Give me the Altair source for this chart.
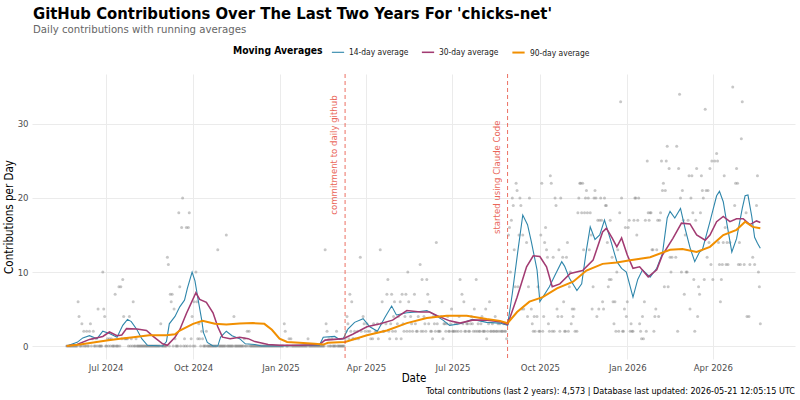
import altair as alt
import pandas as pd

# ---------------- text ----------------
TITLE = "GitHub Contributions Over The Last Two Years For 'chicks-net'"
SUBTITLE = "Daily contributions with running averages"
FOOTER = ("Total contributions (last 2 years): 4,573 | "
          "Database last updated: 2026-05-21 12:05:15 UTC")
LEGEND_TITLE = "Moving Averages"
X_TITLE = "Date"
Y_TITLE = "Contributions per Day"

START = "2024-05-21"          # day 0 of the two-year window
QUIET_LAST_DAY = 292          # up to this day every unplotted day had 0 contributions

series_names = ["14-day average", "30-day average", "90-day average"]
series_colors = ["#2E86AB", "#A23B72", "#F18F01"]

x_tick_dates = [(2024, 7), (2024, 10), (2025, 1), (2025, 4),
                (2025, 7), (2025, 10), (2026, 1), (2026, 4)]
y_ticks = [0, 10, 20, 30]

event_dates = ["2025-03-10", "2025-08-28"]
event_labels = ["commitment to daily github", "started using Claude Code"]
event_label_y = [25.8, 22.8]

# ---------------- daily contributions (day offset, count) ----------------
points_year1 = [
    (12, 6), (13, 4), (16, 3), (18, 2), (21, 2), (24, 2), (25, 3), (27, 1), (28, 2),
    (31, 1), (33, 5), (38, 10), (39, 5), (40, 4), (43, 1), (45, 1), (47, 1), (51, 7),
    (55, 8), (57, 8), (58, 1), (59, 9), (60, 4), (61, 1), (62, 1), (63, 1), (64, 1),
    (66, 4), (68, 1), (70, 6), (73, 1), (99, 3), (106, 12), (107, 11), (109, 7),
    (110, 6), (111, 7), (113, 5), (114, 1), (118, 18), (119, 8), (121, 16), (122, 20),
    (124, 1), (126, 16), (128, 16), (129, 18), (131, 1), (132, 4), (134, 6), (136, 10),
    (137, 6), (138, 1), (139, 3), (140, 1), (142, 2), (143, 1), (147, 2), (159, 13),
    (168, 15), (176, 4), (187, 1), (190, 2), (192, 2), (229, 3), (230, 2), (234, 1),
    (236, 1), (254, 1), (272, 13), (273, 3), (274, 2), (276, 1), (279, 1), (284, 2),
]

points_year2a = [
    (293, 1), (294, 2), (295, 4), (296, 3), (297, 1), (298, 7), (299, 2), (300, 6),
    (301, 1), (302, 1), (303, 2), (304, 1), (306, 2), (307, 1), (309, 12), (310, 2),
    (312, 4), (313, 3), (314, 2), (316, 3), (317, 2), (319, 2), (320, 1), (322, 1),
    (323, 3), (325, 2), (326, 2), (327, 3), (328, 1), (330, 13), (331, 3), (332, 6),
    (333, 2), (334, 2), (336, 3), (337, 7), (338, 9), (339, 2), (340, 1), (341, 3),
    (342, 7), (343, 2), (344, 4), (345, 6), (346, 2), (347, 1), (348, 3), (349, 4),
    (351, 6), (352, 1), (353, 7), (354, 3), (355, 2), (356, 4), (357, 7), (358, 2),
    (359, 10), (360, 6), (361, 2), (362, 4), (363, 3), (364, 2), (366, 7), (367, 3),
    (368, 2), (369, 2), (370, 4), (372, 11), (373, 2), (374, 9), (375, 2), (376, 4),
    (377, 3), (378, 2), (379, 9), (380, 7), (381, 3), (382, 6), (383, 2), (384, 2),
    (385, 1), (386, 4), (387, 3), (388, 2), (389, 14), (390, 3), (391, 2), (392, 2),
    (393, 2), (394, 4), (395, 6), (396, 1), (397, 3), (398, 3), (399, 2), (400, 3),
    (401, 4), (402, 2), (403, 2), (404, 3), (405, 5), (406, 2), (407, 2), (408, 2),
    (409, 3), (410, 2), (411, 3), (412, 2), (413, 4), (414, 9), (415, 2), (416, 7),
    (417, 3), (418, 6), (419, 2), (420, 2), (421, 3), (422, 3), (423, 2), (424, 2),
    (425, 3), (426, 4), (427, 3), (428, 2), (429, 5), (430, 2), (431, 9), (432, 2),
    (433, 3), (434, 2), (435, 2), (436, 3), (437, 4), (438, 2), (439, 2), (440, 2),
    (441, 5), (442, 1), (443, 2), (444, 3), (445, 6), (446, 2), (447, 2), (448, 3),
    (449, 2), (450, 2), (451, 4), (452, 2), (453, 2), (454, 3), (455, 2), (456, 3),
    (457, 2), (458, 2), (459, 2), (460, 3), (461, 2), (462, 2), (463, 1),
]

points_year2b = [
    (464, 3), (465, 15), (466, 16), (467, 10), (468, 17), (469, 20), (470, 19), (471, 13),
    (472, 8), (473, 22), (474, 21), (475, 8), (476, 15), (477, 20), (478, 19), (479, 5),
    (480, 15), (481, 5), (484, 14), (485, 4), (486, 8), (487, 20), (489, 5), (490, 3),
    (491, 2), (492, 4), (493, 2), (495, 4), (496, 8), (497, 2), (498, 2), (499, 15),
    (500, 22), (501, 2), (502, 4), (503, 14), (504, 16), (505, 13), (506, 12), (507, 3),
    (508, 2), (509, 23), (510, 22), (511, 2), (512, 12), (513, 2), (514, 20), (515, 19),
    (516, 5), (517, 4), (518, 13), (519, 2), (520, 20), (521, 4), (522, 12), (523, 6),
    (524, 2), (525, 2), (526, 12), (527, 14), (528, 2), (529, 8), (530, 10), (531, 3),
    (532, 5), (533, 4), (534, 5), (535, 2), (537, 2), (538, 18), (539, 20), (540, 22),
    (541, 22), (542, 18), (543, 22), (544, 13), (545, 18), (546, 20), (547, 21), (548, 18),
    (549, 20), (550, 13), (551, 18), (552, 15), (553, 5), (554, 8), (555, 20), (556, 21),
    (557, 20), (558, 4), (559, 17), (560, 5), (561, 17), (562, 20), (563, 17), (564, 6),
    (565, 5), (566, 20), (567, 19), (568, 19), (569, 14), (570, 8), (571, 9), (572, 17),
    (573, 9), (574, 12), (575, 6), (576, 3), (577, 6), (578, 2), (579, 10), (580, 13),
    (581, 2), (582, 18), (583, 33), (584, 20), (585, 2), (586, 2), (587, 5), (588, 16),
    (589, 4), (590, 6), (591, 16), (592, 17), (593, 2), (594, 3), (595, 2), (596, 2),
    (597, 17), (598, 20), (599, 20), (600, 15), (601, 17), (602, 20), (603, 3), (604, 2),
    (605, 1), (606, 4), (607, 1), (608, 6), (609, 17), (610, 2), (611, 25), (612, 18),
    (613, 17), (614, 18), (615, 18), (616, 13), (617, 13), (618, 2), (619, 4), (620, 5),
    (621, 13), (622, 17), (623, 4), (624, 17), (625, 18), (626, 25), (627, 21), (628, 22),
    (629, 8), (630, 21), (631, 25), (632, 27), (633, 8), (634, 24), (635, 12), (636, 10),
    (637, 12), (641, 12), (642, 27), (643, 2), (644, 24), (645, 34), (646, 20), (647, 10),
    (648, 21), (649, 17), (650, 7), (651, 15), (652, 10), (653, 10), (654, 17), (655, 23),
    (656, 5), (657, 20), (658, 23), (659, 18), (660, 9), (661, 2), (662, 17), (663, 24),
    (664, 4), (665, 8), (666, 7), (667, 18), (668, 23), (669, 21), (670, 20), (671, 9),
    (672, 32), (673, 21), (674, 12), (675, 21), (676, 14), (677, 24), (678, 11), (679, 25),
    (680, 9), (682, 25), (684, 26), (685, 25), (686, 14), (687, 11), (688, 6), (689, 9),
    (690, 11), (691, 14), (692, 23), (693, 16), (694, 11), (695, 14), (696, 11), (698, 14),
    (701, 35), (703, 19), (704, 22), (705, 24), (706, 22), (707, 11), (708, 14), (709, 11),
    (710, 28), (711, 33), (713, 11), (715, 18), (716, 4), (718, 4), (719, 11), (722, 12),
    (724, 11), (726, 19), (727, 23), (728, 10), (729, 8), (730, 3),
]

# ---------------- running averages (day offset, value) ----------------
ma14 = [
    (0, 0), (11, 0.5), (17, 1.1), (24, 1.4), (32, 1.0), (38, 2.0), (45, 1.7), (53, 1.2),
    (59, 2.8), (64, 3.6), (68, 3.3), (74, 2.2), (79, 1.0), (85, 0.1), (101, 0), (105, 0.6),
    (108, 3.0), (114, 4.0), (119, 5.3), (124, 6.2), (127, 7.8), (132, 10.0), (135, 8.8),
    (138, 6.5), (142, 3.6), (144, 1.8), (148, 0.5), (154, 0), (159, 0), (162, 1.2),
    (168, 2.0), (174, 1.4), (182, 1.0), (188, 0.3), (198, 0.2), (205, 0), (224, 0),
    (245, 0.1), (266, 0.1), (270, 1.2), (282, 1.3), (287, 0.9), (291, 1.0), (296, 2.3),
    (303, 3.2), (312, 3.7), (319, 2.6), (327, 2.0), (335, 3.9), (342, 5.4), (347, 4.2),
    (358, 4.5), (368, 4.6), (379, 4.8), (385, 4.4), (396, 3.5), (403, 2.8), (414, 3.0),
    (427, 3.6), (442, 3.2), (456, 3.1), (464, 2.8), (469, 7.1), (475, 13.0), (480, 17.7),
    (485, 16.4), (489, 14.1), (495, 10.3), (498, 6.0), (503, 7.0), (508, 8.0), (514, 9.6),
    (521, 11.4), (524, 10.8), (529, 9.2), (537, 7.5), (542, 8.4), (547, 13.0), (551, 16.1),
    (556, 14.4), (561, 15.0), (566, 17.0), (572, 14.5), (579, 11.4), (584, 10.5),
    (589, 10.0), (596, 6.6), (601, 9.0), (606, 10.3), (614, 9.3), (621, 10.5), (627, 12.5),
    (632, 17.3), (635, 18.2), (640, 17.3), (646, 18.6), (651, 15.8), (656, 13.3),
    (661, 11.4), (666, 12.7), (669, 13.0), (677, 16.8), (684, 20.3), (687, 20.9),
    (691, 19.5), (695, 16.4), (700, 12.7), (705, 14.5), (711, 18.6), (714, 20.3),
    (717, 20.4), (721, 17.5), (724, 14.7), (727, 13.9), (730, 13.2),
]

ma30 = [
    (0, 0), (11, 0.2), (24, 0.9), (38, 1.3), (45, 1.9), (53, 1.4), (58, 1.5), (63, 2.35),
    (74, 2.3), (84, 2.1), (91, 1.3), (101, 0.3), (106, 0.1), (114, 1.2), (119, 2.2),
    (126, 4.4), (136, 7.2), (140, 6.3), (147, 5.9), (154, 4.5), (159, 2.6), (164, 1.2),
    (172, 1.0), (182, 1.2), (191, 1.0), (198, 0.6), (212, 0.2), (224, 0.1), (245, 0.1),
    (266, 0.2), (272, 0.8), (291, 1.0), (301, 1.6), (316, 2.6), (330, 3.0), (343, 3.5),
    (358, 4.8), (372, 4.6), (382, 4.6), (390, 4.1), (403, 3.4), (414, 3.1), (427, 3.5),
    (442, 3.5), (456, 3.3), (464, 2.9), (474, 6.6), (484, 10.7), (491, 12.2), (498, 12.1),
    (505, 10.7), (511, 8.0), (519, 8.4), (530, 9.8), (543, 10.2), (554, 11.6), (564, 15.4),
    (568, 15.9), (574, 14.6), (579, 13.4), (584, 14.6), (590, 12.3), (596, 10.5),
    (603, 10.7), (612, 9.35), (621, 10.3), (627, 12.3), (638, 14.55), (647, 16.6),
    (656, 16.5), (663, 15.0), (672, 14.3), (677, 15.0), (684, 16.8), (691, 17.5),
    (698, 16.8), (705, 17.2), (712, 17.2), (719, 16.4), (726, 16.9), (730, 16.7),
]

ma90 = [
    (0, 0), (14, 0.2), (35, 0.6), (42, 0.75), (56, 1.0), (70, 1.2), (87, 1.45), (105, 1.45),
    (114, 1.6), (119, 2.1), (133, 3.0), (143, 3.4), (156, 3.0), (168, 2.9), (182, 3.05),
    (196, 3.1), (208, 3.0), (216, 2.2), (224, 1.0), (232, 0.55), (245, 0.45), (261, 0.3),
    (270, 0.2), (275, 0.45), (293, 0.55), (316, 1.45), (337, 2.1), (358, 3.1), (379, 3.8),
    (400, 4.1), (421, 4.1), (442, 3.65), (456, 3.4), (464, 3.1), (474, 4.6), (487, 6.0),
    (501, 6.6), (516, 7.8), (533, 8.7), (547, 10.2), (564, 11.1), (579, 11.3), (593, 11.6),
    (614, 12.0), (635, 13.0), (648, 13.1), (663, 12.7), (677, 13.4), (691, 15.0),
    (705, 15.7), (714, 16.8), (722, 16.1), (730, 15.9),
]

# ---------------- tables ----------------
start = pd.Timestamp(START)

nonzero_days = {d for d, _ in points_year1}
quiet_zero_days = [(d, 0) for d in range(0, QUIET_LAST_DAY + 1) if d not in nonzero_days]
df_pts = pd.DataFrame(quiet_zero_days + points_year1 + points_year2a + points_year2b,
                      columns=["day", "value"])
df_pts["date"] = start + pd.to_timedelta(df_pts["day"], unit="D")

ma_rows = []
for name, series in zip(series_names, [ma14, ma30, ma90]):
    for d, v in series:
        ma_rows.append({"day": d, "value": v, "series": name})
df_ma = pd.DataFrame(ma_rows)
df_ma["date"] = start + pd.to_timedelta(df_ma["day"], unit="D")

df_events = pd.DataFrame({"date": pd.to_datetime(event_dates),
                          "label": event_labels, "label_y": event_label_y})

FONT = "DejaVu Sans Condensed, Liberation Sans Narrow, DejaVu Sans, sans-serif"
W, H = 763, 285

x_scale = alt.Scale(domain=[alt.DateTime(year=2024, month=4, date=14, hours=12),
                            alt.DateTime(year=2026, month=6, date=26, hours=12)])
y_scale = alt.Scale(domain=[-1.75, 36.75], nice=False, zero=False)

x_axis = alt.Axis(values=[alt.DateTime(year=y, month=m, date=1) for y, m in x_tick_dates],
                  format="%b %Y", title=X_TITLE)
y_axis = alt.Axis(values=y_ticks, title=Y_TITLE)

base_x = alt.X("date:T", scale=x_scale, axis=x_axis)

points = alt.Chart(df_pts).mark_circle(size=9, color="#7a7a7a", opacity=0.42).encode(
    x=base_x,
    y=alt.Y("value:Q", scale=y_scale, axis=y_axis),
)

lines = alt.Chart(df_ma).mark_line(interpolate="linear").encode(
    x=alt.X("date:T", scale=x_scale),
    y=alt.Y("value:Q", scale=y_scale),
    color=alt.Color(
        "series:N",
        scale=alt.Scale(domain=series_names, range=series_colors),
        legend=alt.Legend(
            title=LEGEND_TITLE, orient="none", legendX=201, legendY=-29,
            direction="horizontal", titleOrient="left", titleFontSize=10.3,
            titleFontWeight="bold", titleColor="#000000", titlePadding=8,
            titleBaseline="middle", labelFontSize=8.4, labelColor="#1a1a1a",
            symbolType="stroke", symbolStrokeWidth=2, symbolSize=150,
            labelOffset=4, columnPadding=9,
        ),
    ),
    strokeWidth=alt.StrokeWidth("series:N",
                                scale=alt.Scale(domain=series_names, range=[1.1, 2.0, 2.0]),
                                legend=None),
    order=alt.Order("day:Q"),
)

rules = alt.Chart(df_events).mark_rule(color="#E74C3C", strokeDash=[4, 3],
                                       strokeWidth=1, opacity=0.8).encode(
    x=alt.X("date:T", scale=x_scale),
)

ann = alt.Chart(df_events).mark_text(angle=270, fontSize=9.5, color="#E74C3C",
                                     opacity=0.85, xOffset=-11, align="center",
                                     baseline="middle").encode(
    x=alt.X("date:T", scale=x_scale),
    y=alt.Y("label_y:Q", scale=y_scale),
    text="label:N",
)

def label(txt, x, y, size, weight="normal", color="#000000", align="left"):
    return alt.Chart(pd.DataFrame({"t": [txt]})).mark_text(
        fontSize=size, fontWeight=weight, color=color, align=align,
        baseline="alphabetic").encode(text="t:N", x=alt.value(x), y=alt.value(y))

title_t = label(TITLE, 1, -55, 16.5, "bold")
sub_t = label(SUBTITLE, 1, -41, 11.3, color="#666666")
foot_t = label(FOOTER, W, 320, 9.0, align="right")

chart = alt.layer(points, lines, rules, ann, title_t, sub_t, foot_t).properties(
    width=W, height=H,
    padding={"left": 32, "top": 74, "right": 5, "bottom": 41},
    autosize=alt.AutoSizeParams(type="none"),
).configure(font=FONT).configure_view(stroke=None).configure_axis(
    grid=True, gridColor="#ebebeb", gridWidth=1, domain=False, ticks=False,
    labelFontSize=9.5, labelColor="#4d4d4d", titleFontSize=11.5,
    titleFontWeight="normal", titleColor="#000000",
).configure_axisX(labelPadding=3, titlePadding=1).configure_axisY(
    labelPadding=4, titlePadding=3)

chart.save("out.html", embed_options={"renderer": "svg", "actions": False})
